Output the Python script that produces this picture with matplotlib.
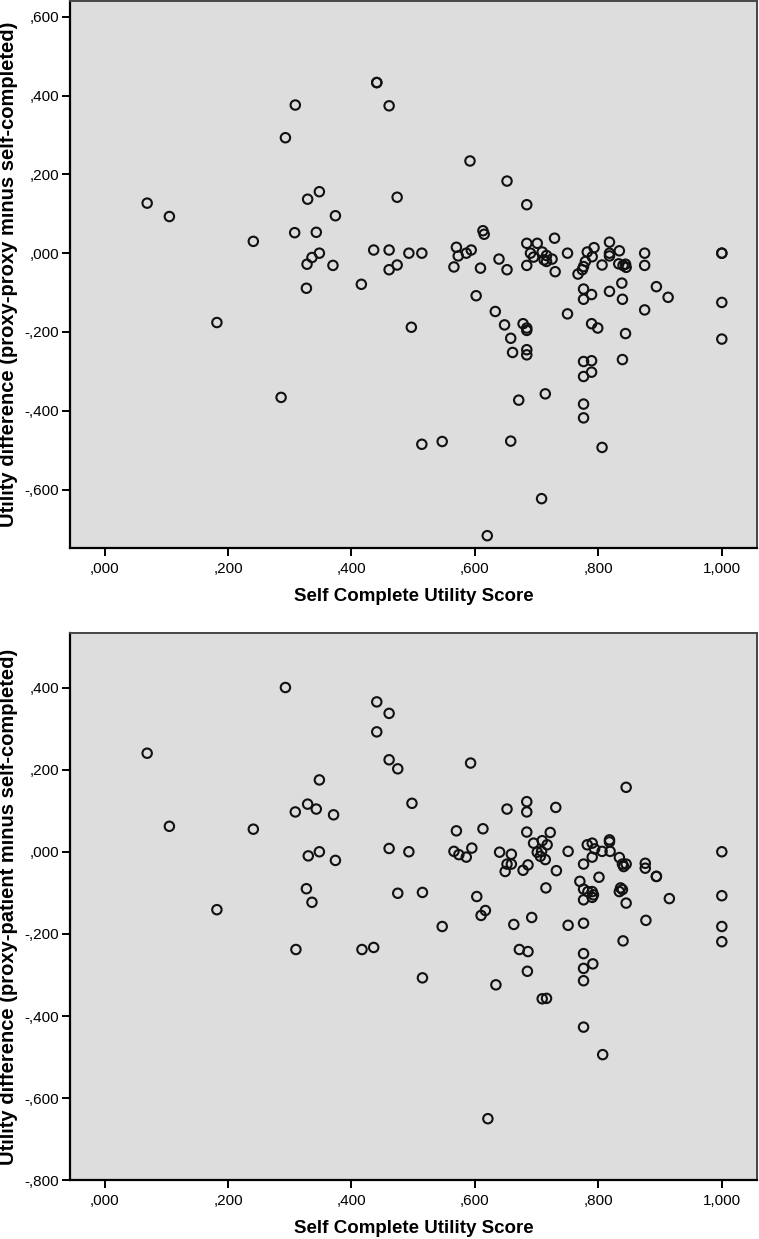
import matplotlib
matplotlib.use("Agg")
import matplotlib.pyplot as plt
from matplotlib.ticker import FuncFormatter, FixedLocator

# ---------------- data ----------------
# Top panel: proxy-proxy minus self-completed
self_score_top = [
    0.069, 0.105, 0.182, 0.241, 0.286, 0.293, 0.309, 0.308, 0.329, 0.348,
    0.374, 0.343, 0.348, 0.336, 0.328, 0.370, 0.327, 0.416, 0.436, 0.441,
    0.441, 0.461, 0.474, 0.461, 0.461, 0.474, 0.493, 0.497, 0.514, 0.514,
    0.547, 0.570, 0.573, 0.586, 0.594, 0.566, 0.592, 0.609, 0.602, 0.613,
    0.615, 0.620, 0.639, 0.633, 0.652, 0.652, 0.648, 0.658, 0.661, 0.658,
    0.671, 0.678, 0.684, 0.684, 0.684, 0.684, 0.684, 0.684, 0.684, 0.690,
    0.695, 0.701, 0.709, 0.716, 0.712, 0.716, 0.725, 0.729, 0.730, 0.708,
    0.714, 0.750, 0.750, 0.767, 0.774, 0.776, 0.779, 0.782, 0.790, 0.793,
    0.776, 0.776, 0.776, 0.776, 0.776, 0.776, 0.789, 0.789, 0.789, 0.789,
    0.799, 0.806, 0.806, 0.818, 0.818, 0.818, 0.818, 0.834, 0.833, 0.840,
    0.845, 0.844, 0.838, 0.839, 0.839, 0.844, 0.875, 0.875, 0.875, 0.894,
    0.913, 1.000, 1.000, 1.000, 1.000,
]
diff_proxy_proxy = [
    0.127, 0.093, -0.176, 0.030, -0.366, 0.293, 0.376, 0.052, 0.137, 0.156,
    0.095, 0.053, 0.000, -0.011, -0.028, -0.031, -0.089, -0.079, 0.008, 0.433,
    0.433, 0.374, 0.142, 0.008, -0.042, -0.030, 0.000, -0.188, 0.000, -0.485,
    -0.478, 0.015, -0.007, 0.000, 0.008, -0.035, 0.234, -0.038, -0.108, 0.057,
    0.048, -0.717, -0.015, -0.148, 0.183, -0.042, -0.182, -0.216, -0.252, -0.477,
    -0.373, -0.179, 0.123, 0.025, -0.031, -0.190, -0.196, -0.245, -0.258, 0.000,
    -0.010, 0.025, 0.003, -0.006, -0.017, -0.021, -0.015, 0.038, -0.047, -0.623,
    -0.357, 0.000, -0.154, -0.053, -0.042, -0.034, -0.021, 0.003, -0.009, 0.014,
    -0.091, -0.117, -0.275, -0.313, -0.383, -0.418, -0.105, -0.179, -0.273, -0.302,
    -0.190, -0.030, -0.493, 0.028, 0.000, -0.007, -0.097, 0.006, -0.027, -0.031,
    -0.036, -0.028, -0.076, -0.117, -0.270, -0.204, 0.000, -0.031, -0.144, -0.085,
    -0.112, 0.000, 0.000, -0.125, -0.218,
]

# Bottom panel: proxy-patient minus self-completed
self_score_bottom = [
    0.069, 0.105, 0.182, 0.241, 0.293, 0.309, 0.310, 0.329, 0.343, 0.348,
    0.371, 0.348, 0.330, 0.374, 0.327, 0.336, 0.417, 0.436, 0.441, 0.441,
    0.461, 0.461, 0.475, 0.461, 0.475, 0.493, 0.498, 0.515, 0.515, 0.547,
    0.570, 0.566, 0.574, 0.586, 0.595, 0.593, 0.613, 0.603, 0.617, 0.610,
    0.621, 0.634, 0.640, 0.652, 0.659, 0.652, 0.659, 0.649, 0.663, 0.672,
    0.678, 0.684, 0.684, 0.684, 0.686, 0.686, 0.685, 0.692, 0.695, 0.709,
    0.717, 0.701, 0.708, 0.706, 0.714, 0.715, 0.709, 0.716, 0.722, 0.731,
    0.732, 0.751, 0.751, 0.770, 0.776, 0.776, 0.783, 0.790, 0.792, 0.776,
    0.790, 0.776, 0.776, 0.776, 0.776, 0.776, 0.791, 0.782, 0.790, 0.794,
    0.790, 0.801, 0.806, 0.807, 0.818, 0.818, 0.819, 0.834, 0.839, 0.845,
    0.841, 0.836, 0.839, 0.834, 0.845, 0.840, 0.845, 0.876, 0.876, 0.877,
    0.894, 0.894, 0.915, 1.000, 1.000, 1.000, 1.000,
]
diff_proxy_patient = [
    0.240, 0.062, -0.141, 0.055, 0.400, 0.097, -0.238, 0.116, 0.104, 0.175,
    0.090, 0.000, -0.010, -0.021, -0.090, -0.123, -0.238, -0.233, 0.365, 0.292,
    0.337, 0.224, 0.202, 0.008, -0.101, 0.000, 0.118, -0.099, -0.307, -0.182,
    0.051, 0.001, -0.007, -0.013, 0.009, 0.216, 0.056, -0.109, -0.143, -0.155,
    -0.650, -0.324, -0.001, 0.104, -0.006, -0.030, -0.030, -0.048, -0.177, -0.238,
    -0.045, 0.122, 0.097, 0.048, -0.032, -0.243, -0.291, -0.160, 0.021, 0.027,
    0.017, -0.001, 0.001, -0.011, -0.019, -0.088, -0.358, -0.357, 0.047, 0.108,
    -0.046, 0.001, -0.179, -0.072, -0.030, -0.091, -0.097, -0.097, -0.105, -0.117,
    -0.111, -0.174, -0.248, -0.284, -0.314, -0.427, -0.273, 0.017, 0.021, 0.007,
    -0.013, -0.062, 0.001, -0.494, 0.029, 0.024, 0.001, -0.014, -0.030, -0.030,
    -0.036, -0.088, -0.092, -0.097, -0.125, -0.217, 0.157, -0.028, -0.040, -0.167,
    -0.060, -0.060, -0.114, 0.000, -0.107, -0.182, -0.219,
]

x_ticks = [0.0, 0.2, 0.4, 0.6, 0.8, 1.0]
y_ticks_top = [-0.6, -0.4, -0.2, 0.0, 0.2, 0.4, 0.6]
y_ticks_bottom = [-0.8, -0.6, -0.4, -0.2, 0.0, 0.2, 0.4]

x_label = "Self Complete Utility Score"
y_label_top = "Utility difference (proxy-proxy minus self-completed)"
y_label_bottom = "Utility difference (proxy-patient minus self-completed)"

# ---------------- style ----------------
plt.rcParams['font.family'] = ['Liberation Sans', 'DejaVu Sans']

def spss_fmt(v, pos=None):
    s = f"{v:.3f}".replace('.', ',')
    if s.startswith('0,'):
        s = s[1:]
    elif s.startswith('-0,'):
        s = '-' + s[2:]
    return s

W, H = 759, 1239
fig = plt.figure(figsize=(W / 100, H / 100), dpi=100)
fig.patch.set_facecolor('white')

left = 70 / W
width = (757 - 70) / W
ax_top = fig.add_axes([left, 1 - 548.3 / H, width, (548.3 - 1) / H])
ax_bot = fig.add_axes([left, 1 - 1180.3 / H, width, (1180.3 - 633.3) / H])

panels = [
    (ax_top, self_score_top, diff_proxy_proxy, y_ticks_top, (-0.749, 0.640), y_label_top),
    (ax_bot, self_score_bottom, diff_proxy_patient, y_ticks_bottom, (-0.800, 0.532), y_label_bottom),
]

for ax, xs, ys, yt, ylim, ylab in panels:
    ax.set_facecolor('#dddddd')
    ax.scatter(xs, ys, s=46, facecolors='none', edgecolors='#111111',
               linewidths=1.5, zorder=3)
    ax.set_xlim(-0.056, 1.057)
    ax.set_ylim(*ylim)
    ax.xaxis.set_major_locator(FixedLocator(x_ticks))
    ax.yaxis.set_major_locator(FixedLocator(yt))
    ax.xaxis.set_major_formatter(FuncFormatter(spss_fmt))
    ax.yaxis.set_major_formatter(FuncFormatter(spss_fmt))
    ax.tick_params(axis='both', direction='out', length=6, width=1.4,
                   colors='black', labelsize=11, pad=2)
    ax.tick_params(axis='x', pad=4)
    for side in ('left', 'bottom'):
        ax.spines[side].set_color('black')
        ax.spines[side].set_linewidth(1.6)
    for side in ('top', 'right'):
        ax.spines[side].set_color('#444444')
        ax.spines[side].set_linewidth(1.4)
    ax.set_xlabel(x_label, fontsize=13.5, fontweight='bold')
    ax.set_ylabel(ylab, fontsize=14.5, fontweight='bold')
    ax.xaxis.set_label_coords(0.5, -0.072)
    ax.yaxis.set_label_coords(-0.075, 0.5)

fig.savefig('out.png', dpi=100)
